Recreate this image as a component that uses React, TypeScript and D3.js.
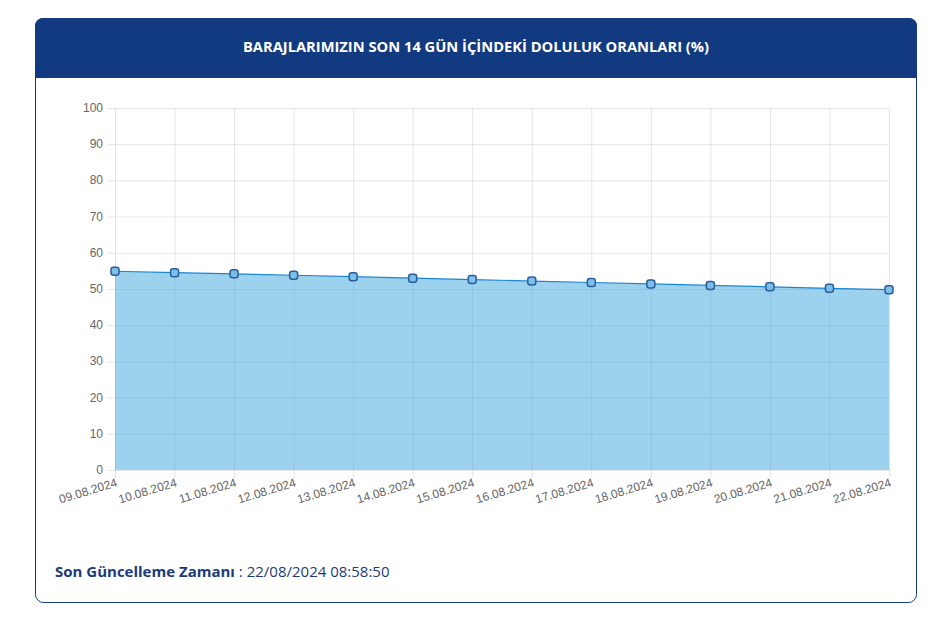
import React from "react";
import * as d3 from "d3";

const dates = ["09.08.2024","10.08.2024","11.08.2024","12.08.2024","13.08.2024","14.08.2024","15.08.2024","16.08.2024","17.08.2024","18.08.2024","19.08.2024","20.08.2024","21.08.2024","22.08.2024"];
const values = [54.9, 54.5, 54.2, 53.8, 53.4, 53.0, 52.6, 52.2, 51.8, 51.4, 51.0, 50.6, 50.2, 49.8];
const yTicks = [0, 10, 20, 30, 40, 50, 60, 70, 80, 90, 100];
const title = "BARAJLARIMIZIN SON 14 GÜN İÇİNDEKİ DOLULUK ORANLARI (%)";
const footerLabel = "Son Güncelleme Zamanı";
const footerValue = " : 22/08/2024 08:58:50";

export default function App() {
  const W = 937, H = 621;
  const x = d3.scalePoint<string>().domain(dates).range([115, 889]);
  const y = d3.scaleLinear().domain([0, 100]).range([470, 108]);
  const area = d3.area<number>().x((_, i) => x(dates[i])!).y0(y(0)).y1(d => y(d));
  const line = d3.line<number>().x((_, i) => x(dates[i])!).y(d => y(d));
  const font = "Arial, 'Liberation Sans', sans-serif";
  const grid = "rgba(0,0,0,0.1)";
  return (
    <svg width={W} height={H} style={{ position: "absolute", left: 0, top: 0 }}>
      <rect x={35.5} y={18.5} width={881} height={584} rx={8} fill="#fff" stroke="#123a80" />
      <path d="M35,26 a8,8 0 0 1 8,-8 H909 a8,8 0 0 1 8,8 V78 H35 Z" fill="#123a80" />
      <text x={476} y={52} textAnchor="middle" fill="#fff" fontFamily="'Open Sans', sans-serif" fontWeight={700} fontSize={14.7}>{title}</text>
      {yTicks.map(t => (
        <g key={t}>
          <line x1={108} x2={889} y1={y(t) + 0.5} y2={y(t) + 0.5} stroke={grid} />
          <text x={103} y={y(t) + 4} textAnchor="end" fill="#666" fontFamily={font} fontSize={12}>{t}</text>
        </g>
      ))}
      {dates.map(d => (
        <line key={d} x1={x(d)! + 0.5} x2={x(d)! + 0.5} y1={108} y2={478} stroke={grid} />
      ))}
      <path d={area(values)!} fill="rgba(60,165,222,0.5)" />
      <path d={line(values)!} fill="none" stroke="#1b86d0" strokeWidth={1.2} />
      {values.map((v, i) => (
        <rect key={i} x={x(dates[i])! - 4} y={y(v) - 4} width={8} height={8} rx={2.5} fill="#7cc0e8" stroke="#2a5d9f" strokeWidth={1.5} />
      ))}
      {dates.map(d => (
        <text key={d} transform={`translate(${x(d)! + 3},${486}) rotate(-17)`} textAnchor="end" fill="#666" fontFamily={font} fontSize={12}>{d}</text>
      ))}
      <text x={55} y={577} fontFamily="'Open Sans', sans-serif" fontSize={15} fill="#1d3a78">
        <tspan fontWeight={700}>{footerLabel}</tspan>
        <tspan>{footerValue}</tspan>
      </text>
    </svg>
  );
}
